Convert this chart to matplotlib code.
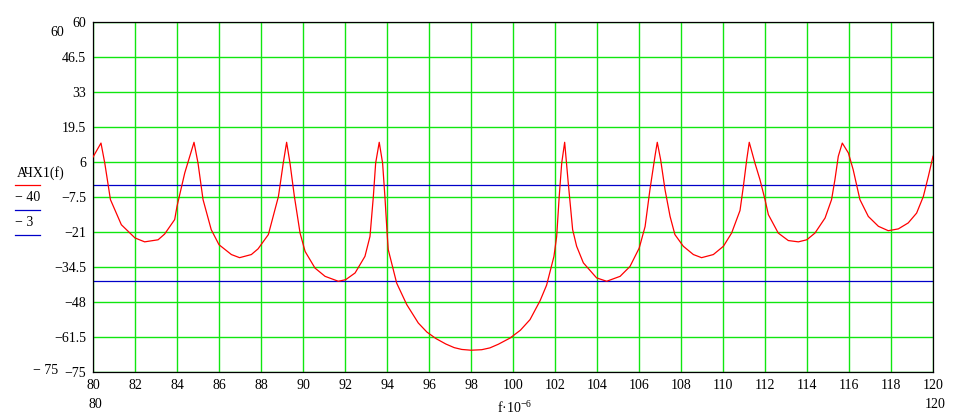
import numpy as np
import matplotlib
matplotlib.use("Agg")
import matplotlib.pyplot as plt
from matplotlib.lines import Line2D

plt.rcParams['font.family'] = ['Liberation Serif', 'DejaVu Serif']
plt.rcParams['mathtext.default'] = 'regular'

# frequency (f*1e-6) and response values
freq = [80.0, 80.38, 80.56, 80.83, 81.35, 82.0, 82.46, 83.1, 83.41, 83.89,
        84.0, 84.37, 84.81, 85.0, 85.24, 85.63, 86.0, 86.59, 86.98, 87.54,
        87.86, 88.35, 88.83, 89.06, 89.22, 89.38, 89.59, 89.86, 90.1, 90.57,
        91.05, 91.68, 92.03, 92.48, 92.95, 93.19, 93.35, 93.46, 93.63, 93.79,
        93.9, 94.01, 94.06, 94.46, 94.94, 95.49, 95.9, 96.33, 96.8, 97.2, 97.56, 98.0,
        98.51, 98.9, 99.3, 99.86, 100.35, 100.81, 101.29, 101.6, 101.95, 102.08, 102.2, 102.32,
        102.46, 102.63, 102.84, 103.03, 103.35, 103.98, 104.46, 105.1, 105.57, 106.01,
        106.29, 106.52, 106.76, 106.87, 107.03, 107.24, 107.48, 107.71, 108.11, 108.59,
        108.98, 109.54, 110.02, 110.41, 110.81, 110.97, 111.13, 111.25, 111.52, 111.76,
        112.0, 112.16, 112.63, 113.11, 113.59, 113.99, 114.38, 114.86, 115.17, 115.33,
        115.49, 115.68, 115.97, 116.2, 116.52, 116.92, 117.4, 117.87, 118.35, 118.82,
        119.22, 119.54, 119.78, 120.0]
achx = [7.9, 13.3, 5.6, -8.5, -18.2, -23.3, -24.8, -24.0, -21.8, -16.2,
        -11.1, 1.8, 13.6, 5.6, -8.5, -20.1, -25.9, -29.7, -30.9, -29.7,
        -27.5, -22.0, -7.3, 5.6, 13.6, 5.6, -7.3, -21.4, -28.5, -34.9,
        -38.1, -40.0, -39.4, -36.8, -30.4, -22.7, -7.3, 5.6, 13.6, 5.6,
        -7.3, -22.0, -27.8, -40.7, -49.0, -56.1, -59.6, -62.1, -64.2, -65.6, -66.3, -66.6,
        -66.4, -65.7, -64.3, -61.9, -58.9, -54.8, -47.5, -41.5, -30.4, -22.7, -7.3, 5.6,
        13.6, -2.0, -20.1, -26.5, -32.9, -38.7, -40.0, -38.1, -34.3, -27.2,
        -18.9, -4.7, 8.2, 13.6, 6.9, -4.7, -15.0, -22.0, -26.5, -29.7,
        -30.9, -29.7, -26.5, -21.4, -12.7, -3.4, 6.9, 13.6, 5.6, -0.8,
        -8.5, -14.3, -21.4, -24.3, -24.8, -24.0, -21.4, -15.6, -8.5, -0.8,
        8.2, 13.3, 9.5, 3.0, -8.5, -15.0, -18.8, -20.5, -19.8, -17.5,
        -13.7, -7.3, 0.5, 8.2]
levels = [-40, -3]

xticks = list(range(80, 121, 2))
yticks = [60, 46.5, 33, 19.5, 6, -7.5, -21, -34.5, -48, -61.5, -75]
ylabels = ['60', '46.5', '33', '19.5', '6', '\u22127.5', '\u221221', '\u221234.5',
           '\u221248', '\u221261.5', '\u221275']

W, H = 956, 418
fig = plt.figure(figsize=(W / 100, H / 100), dpi=100)
ax = fig.add_axes([93 / W, 1 - 372 / H, 840 / W, 350 / H])

green = '#10e610'
red = '#ff0000'
blue = '#0000c8'

ax.plot(freq, achx, color=red, lw=0.9, zorder=3)
for lv in levels:
    ax.axhline(lv, color=blue, lw=0.9, zorder=2)

ax.set_xlim(80, 120)
ax.set_ylim(-75, 60)
ax.set_xticks(xticks)
ax.set_xticklabels([str(t) for t in xticks])
ax.set_yticks(yticks)
ax.set_yticklabels(ylabels)
ax.grid(True, color=green, lw=1.0)
ax.set_axisbelow(True)
ax.tick_params(length=0, labelsize=10)
ax.tick_params(axis='y', pad=5)
ax.tick_params(axis='x', pad=5)
for s in ax.spines.values():
    s.set_color('black')
    s.set_linewidth(0.9)

# limit labels outside the axes
def ftext(x, y, s, **kw):
    fig.text(x / W, 1 - y / H, s, fontsize=10, **kw)

ftext(57, 32, '60', ha='center', va='center')
ftext(46, 371, '\u2212 75', ha='center', va='center')
ftext(95, 404, '80', ha='center', va='center')
ftext(935, 404, '120', ha='center', va='center')
ftext(515, 408, 'f\u00b710$^{\u22126}$', ha='center', va='center')

# legend block on the left
ftext(17, 173, '\u0410\u0427\u04251(f)', ha='left', va='center')
ftext(15, 197, '\u2212 40', ha='left', va='center')
ftext(15, 222, '\u2212 3', ha='left', va='center')
for yy, c in [(185, red), (210, blue), (235, blue)]:
    fig.add_artist(Line2D([15 / W, 40 / W], [1 - yy / H, 1 - yy / H],
                          transform=fig.transFigure, color=c, lw=0.9))

fig.savefig('out.png', dpi=100)
